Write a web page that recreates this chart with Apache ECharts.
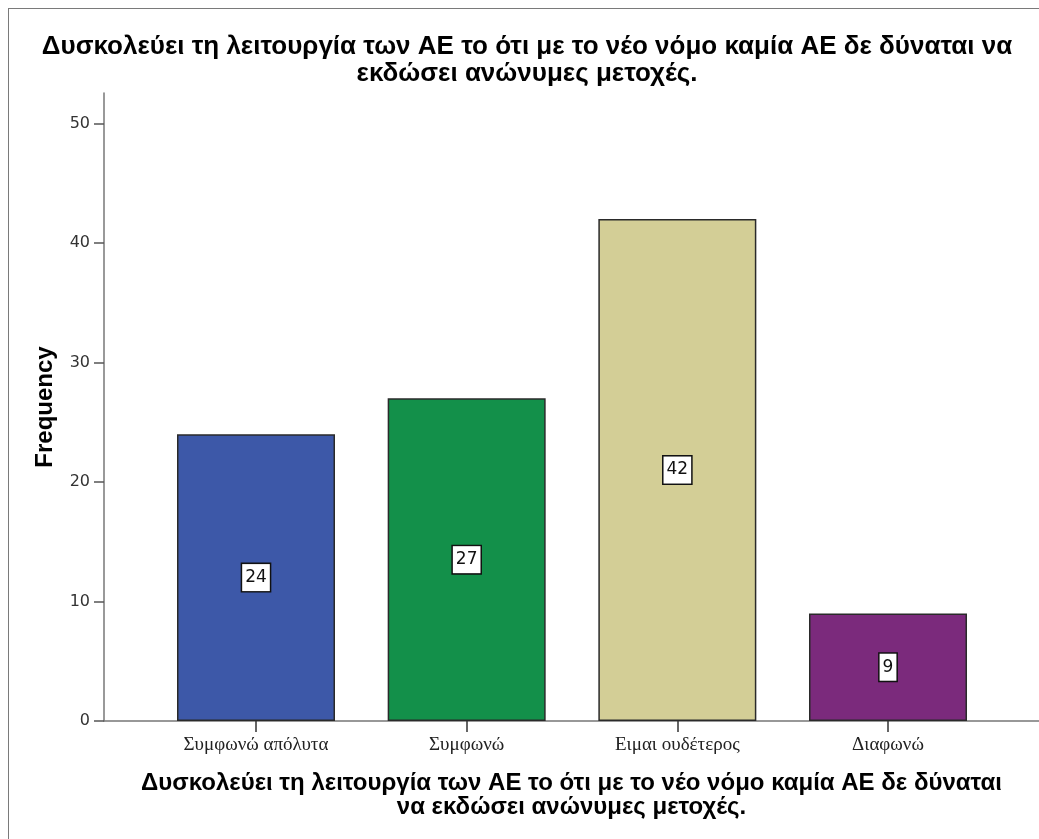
<!DOCTYPE html>
<html>
<head>
<meta charset="utf-8">
<script src="https://cdn.jsdelivr.net/npm/echarts@6/dist/echarts.min.js"></script>
<style>
  html, body { margin: 0; padding: 0; background: #fff; }
  #frame { position: absolute; left: 8px; top: 8px; width: 1031px; height: 831px;
           border-left: 1px solid #7a7a7a; border-top: 1px solid #7a7a7a; }
  #main { position: absolute; left: 0; top: 0; width: 1039px; height: 839px; }
</style>
</head>
<body>
<div id="frame"></div>
<div id="main"></div>
<script>
'use strict';

var title_text = 'Δυσκολεύει τη λειτουργία των ΑΕ το ότι με το νέο νόμο καμία ΑΕ δε δύναται να\nεκδώσει ανώνυμες μετοχές.';
var x_name = 'Δυσκολεύει τη λειτουργία των ΑΕ το ότι με το νέο νόμο καμία ΑΕ δε δύναται\nνα εκδώσει ανώνυμες μετοχές.';
var categories = ['Συμφωνώ απόλυτα', 'Συμφωνώ', 'Ειμαι ουδέτερος', 'Διαφωνώ'];
var frequency = [24, 27, 42, 9];
var bar_colors = ['#3d58a8', '#13904a', '#d3ce96', '#7b2a7c'];
var y_ticks = [0, 10, 20, 30, 40, 50];

var y_max = 52.55;   // axis line runs a little above 50

var my_chart = echarts.init(document.getElementById('main'));

var bar_data = [];
for (var i = 0; i < frequency.length; i++) {
    bar_data.push({
        value: frequency[i],
        itemStyle: { color: bar_colors[i] }
    });
}

my_chart.setOption({
    animation: false,
    backgroundColor: 'transparent',
    title: {
        text: title_text,
        left: 522,
        top: 28,
        textAlign: 'center',
        textStyle: {
            fontFamily: 'Liberation Sans',
            fontWeight: 'bold',
            fontSize: 26,
            lineHeight: 27,
            color: '#000'
        }
    },
    grid: [
        { left: 104, right: 0, top: 93, bottom: 118 },   // axes frame
        { left: 150.67, width: 842.67, top: 93, bottom: 118 }   // bars
    ],
    xAxis: [
        {
            gridIndex: 0,
            type: 'value',
            min: 0,
            max: 1,
            splitLine: { show: false },
            axisTick: { show: false },
            axisLabel: { show: false },
            axisLine: { show: true, lineStyle: { color: '#777', width: 1.5 } },
            name: x_name,
            nameLocation: 'middle',
            nameGap: 50,
            nameTextStyle: {
                fontFamily: 'Liberation Sans',
                fontWeight: 'bold',
                fontSize: 24,
                lineHeight: 24,
                color: '#000'
            }
        },
        {
            gridIndex: 1,
            type: 'category',
            data: categories,
            axisLine: { show: false },
            axisTick: {
                show: true,
                alignWithLabel: true,
                length: 11,
                lineStyle: { color: '#333', width: 1.5 }
            },
            axisLabel: {
                margin: 15,
                fontFamily: 'Liberation Serif',
                fontSize: 19,
                color: '#222'
            }
        }
    ],
    yAxis: [
        {
            gridIndex: 0,
            type: 'value',
            min: 0,
            max: y_max,
            splitLine: { show: false },
            axisLine: { show: true, lineStyle: { color: '#777', width: 1.5 } },
            axisTick: {
                show: true,
                customValues: y_ticks,
                length: 10,
                lineStyle: { color: '#555', width: 1.5 }
            },
            axisLabel: {
                customValues: y_ticks,
                margin: 14,
                fontFamily: 'DejaVu Sans',
                fontSize: 16,
                color: '#333'
            },
            name: 'Frequency',
            nameLocation: 'middle',
            nameGap: 47,
            nameTextStyle: {
                fontFamily: 'Liberation Sans',
                fontWeight: 'bold',
                fontSize: 24,
                color: '#000'
            }
        },
        {
            gridIndex: 1,
            type: 'value',
            min: 0,
            max: y_max,
            show: false
        }
    ],
    series: [
        {
            type: 'bar',
            xAxisIndex: 1,
            yAxisIndex: 1,
            data: bar_data,
            barWidth: 158,
            itemStyle: {
                borderColor: '#2a2a2a',
                borderWidth: 1.5
            },
            label: {
                show: true,
                position: 'inside',
                fontFamily: 'DejaVu Sans',
                fontSize: 17,
                color: '#111',
                backgroundColor: '#fff',
                borderColor: '#111',
                borderWidth: 1.5,
                padding: [6, 3, 4, 3]
            }
        }
    ]
});
</script>
</body>
</html>
